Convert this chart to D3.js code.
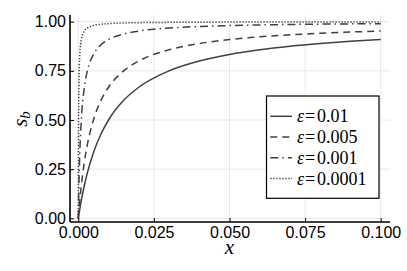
<!DOCTYPE html>
<html><head><meta charset="utf-8">
<script src="https://cdn.jsdelivr.net/npm/d3@7"></script>
<style>body{margin:0;background:#fff}svg{display:block}</style>
</head><body>
<script>
const xs = [0, 0.0001, 0.0002, 0.0005, 0.001, 0.002, 0.003, 0.005, 0.0075, 0.01, 0.015, 0.02, 0.03, 0.04, 0.05, 0.06, 0.07, 0.08, 0.09, 0.1];
const sEps01 = [0, 0.0099, 0.0196, 0.0476, 0.0909, 0.1667, 0.2308, 0.3333, 0.4286, 0.5, 0.6, 0.6667, 0.75, 0.8, 0.8333, 0.8571, 0.875, 0.8889, 0.9, 0.9091];
const sEps005 = [0, 0.0196, 0.0385, 0.0909, 0.1667, 0.2857, 0.375, 0.5, 0.6, 0.6667, 0.75, 0.8, 0.8571, 0.8889, 0.9091, 0.9231, 0.9333, 0.9412, 0.9474, 0.9524];
const sEps001 = [0, 0.0909, 0.1667, 0.3333, 0.5, 0.6667, 0.75, 0.8333, 0.8824, 0.9091, 0.9375, 0.9524, 0.9677, 0.9756, 0.9804, 0.9836, 0.9859, 0.9877, 0.989, 0.9901];
const sEps0001 = [0, 0.5, 0.6667, 0.8333, 0.9091, 0.9524, 0.9677, 0.9804, 0.9868, 0.9901, 0.9934, 0.995, 0.9967, 0.9975, 0.998, 0.9983, 0.9986, 0.9988, 0.9989, 0.999];
const seriesLabels = ["0.01", "0.005", "0.001", "0.0001"];
const xTicks = [0, 0.025, 0.05, 0.075, 0.1];
const yTicks = [0, 0.25, 0.5, 0.75, 1.0];

(function () {
const W = 407, H = 271;
const svg = d3.select("body").append("svg").attr("width", W).attr("height", H);
const pL = 70, pR = 390, pT = 15, pB = 222;
const x = d3.scaleLinear().domain([0, 0.1]).range([78.3, 380.7]);
const y = d3.scaleLinear().domain([0, 1]).range([218.3, 21.7]);

// grid
const g = svg.append("g");
g.selectAll(".vg").data(xTicks).enter().append("line")
  .attr("x1", d => x(d)).attr("x2", d => x(d)).attr("y1", pT).attr("y2", pB)
  .attr("stroke", "#e8e8e8").attr("stroke-width", 1);
g.selectAll(".hg").data(yTicks).enter().append("line")
  .attr("y1", d => y(d)).attr("y2", d => y(d)).attr("x1", pL).attr("x2", pR)
  .attr("stroke", "#e8e8e8").attr("stroke-width", 1);

// lines
const series = [sEps01, sEps005, sEps001, sEps0001];
const dashes = [null, "7,5", "8,4,1.5,4", "1.3,1.7"];
const line = d3.line().x((d, i) => x(xs[i])).y(d => y(d)).curve(d3.curveMonotoneX);
series.forEach((s, k) => {
  svg.append("path").datum(s).attr("d", line)
    .attr("fill", "none").attr("stroke", "#404040").attr("stroke-width", 1.5)
    .attr("stroke-dasharray", dashes[k]);
});

// axes
const xAxis = d3.axisBottom(x).tickValues(xTicks).tickFormat(d3.format(".3f")).tickSizeInner(-4).tickSizeOuter(0).tickPadding(5);
const yAxis = d3.axisLeft(y).tickValues(yTicks).tickFormat(d3.format(".2f")).tickSizeInner(-4).tickSizeOuter(0).tickPadding(4);
const gx = svg.append("g").attr("transform", `translate(0,${pB})`).call(xAxis);
const gy = svg.append("g").attr("transform", `translate(${pL},0)`).call(yAxis);
gx.select(".domain").attr("d", `M${pL},0H${pR}`);
gy.select(".domain").attr("d", `M0,${pB}V${pT}`);
[gx, gy].forEach(a => {
  a.select(".domain").attr("stroke", "#000").attr("stroke-width", 1.6);
  a.selectAll(".tick line").attr("stroke", "#000").attr("stroke-width", 1);
  a.selectAll(".tick text").attr("font-family", "Liberation Sans, Arial, sans-serif").attr("font-size", 16).attr("fill", "#000");
});

// axis labels
svg.append("text").attr("x", 229.5).attr("y", 254).attr("text-anchor", "middle")
  .attr("font-family", "Liberation Serif, serif").attr("font-style", "italic").attr("font-size", 21).text("x");
const yl = svg.append("text").attr("transform", "translate(26.5,119) rotate(-90)").attr("text-anchor", "middle")
  .attr("font-family", "Liberation Serif, serif").attr("font-style", "italic").attr("font-size", 21);
yl.append("tspan").text("s");
yl.append("tspan").attr("font-size", 15).attr("dy", 3).text("b");

// legend
const lg = svg.append("g");
lg.append("rect").attr("x", 266.5).attr("y", 96).attr("width", 112.5).attr("height", 102.3)
  .attr("fill", "#fff").attr("stroke", "#000").attr("stroke-width", 1.2);
const ly = [116.3, 137, 157.8, 178.5];
seriesLabels.forEach((lab, k) => {
  lg.append("line").attr("x1", 270.3).attr("x2", 292).attr("y1", ly[k]).attr("y2", ly[k])
    .attr("stroke", "#404040").attr("stroke-width", 1.5).attr("stroke-dasharray", dashes[k]);
  const font = t => t.attr("font-family", "Liberation Serif, serif").attr("font-size", 18).attr("fill", "#000");
  font(lg.append("text").attr("x", 297).attr("y", ly[k] + 6).attr("font-style", "italic").text("ε"));
  font(lg.append("text").attr("x", 305).attr("y", ly[k] + 6).text("="));
  font(lg.append("text").attr("x", 317).attr("y", ly[k] + 6).text(lab));
});
})();
</script>
</body></html>
